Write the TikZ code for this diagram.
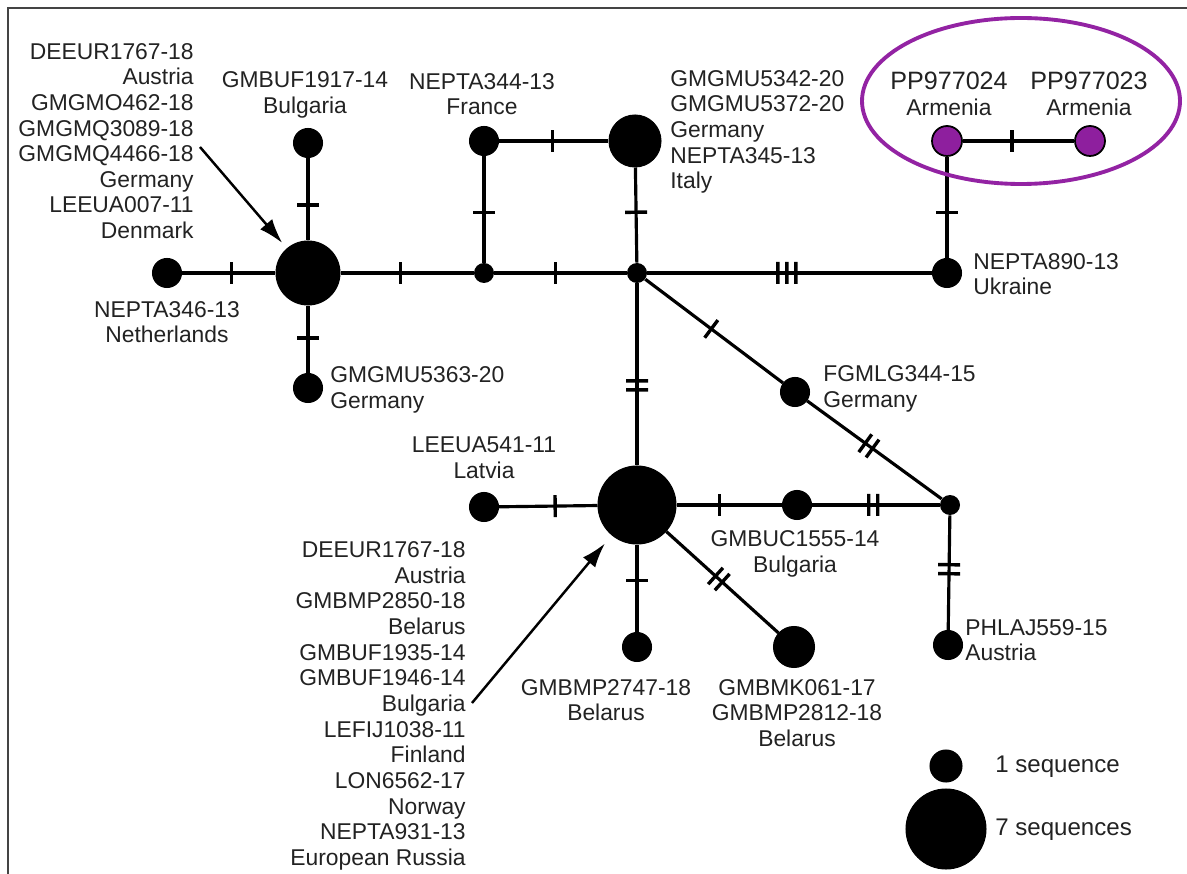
\documentclass[tikz,border=0pt]{standalone}
\usepackage{fontspec}
\setmainfont{Liberation Sans}
\usetikzlibrary{decorations.markings,arrows.meta,backgrounds,shapes.geometric}
\definecolor{purp}{HTML}{8E1F9E}
\definecolor{purpline}{HTML}{9323A3}
\definecolor{txt}{HTML}{222222}
\definecolor{frame}{HTML}{444444}
\begin{document}
\begin{tikzpicture}[x=0.02cm,y=-0.02cm,
  hap/.style={circle,fill=black,draw=black,line width=0.6pt,inner sep=0pt,minimum size=#1*0.04cm},
  med/.style={circle,fill=black,inner sep=0pt,minimum size=0.4cm},
  armhap/.style={circle,fill=purp,draw=black,line width=1pt,inner sep=0pt,minimum size=0.6cm},
  edge/.style={line width=1.8pt},
  tone/.style={postaction={decorate,decoration={markings,mark=at position #1 with {\fill (-1.7,-11) rectangle (1.7,11);}}}},
  ttwo/.style={postaction={decorate,decoration={markings,mark=at position #1 with {\fill (-6.2,-11) rectangle (-2.8,11) (2.8,-11) rectangle (6.2,11);}}}},
  tthree/.style={postaction={decorate,decoration={markings,mark=at position #1 with {\fill (-10.7,-11) rectangle (-7.3,11) (-1.7,-11) rectangle (1.7,11) (7.3,-11) rectangle (10.7,11);}}}},
  lab/.style={font=\fontsize{13}{14.6}\selectfont,text=txt,inner sep=0pt},
  legtxt/.style={font=\fontsize{13.7}{16}\selectfont,text=txt,inner sep=0pt,anchor=west},
  pointer/.style={line width=1.4pt,-{Latex[length=14pt,width=9pt]}}
]
\useasboundingbox (0,0) rectangle (1187,874);
% frame (top and left)
\coordinate (fa) at (8,874);
\coordinate (fb) at (8,8);
\coordinate (fc) at (1187,8);
\draw[frame,line width=1.3pt] (fa) -- (fb) -- (fc);

% haplotype nodes
\node[hap=32] (A) at (308,273) {};
\node[hap=14.5] (nl) at (167,273) {};
\node[hap=14.5] (nt) at (308,143) {};
\node[hap=14.5] (nb) at (308,388) {};
\node[med] (m1) at (484,273) {};
\node[hap=14.5] (fr) at (484,141) {};
\node[hap=26] (g7) at (635,141) {};
\node[med] (m2) at (637,273) {};
\node[hap=14.5] (uk) at (947,273) {};
\node[armhap] (am1) at (947,141) {};
\node[armhap] (am2) at (1090,141) {};
\node[hap=14.5] (fg) at (795,392) {};
\node[med] (m3) at (950,505) {};
\node[hap=14.5] (ph) at (948,645) {};
\node[hap=14.5] (bu) at (797,505) {};
\node[hap=39] (B) at (637,505) {};
\node[hap=14.5] (lv) at (484,507) {};
\node[hap=14.5] (by) at (637,647) {};
\node[hap=20.5] (mk) at (794,647) {};

% legend
\node[hap=16] (leg1) at (946,766) {};
\node[hap=40] (leg7) at (946,829) {};
\node[legtxt] (legt1) at (995,767) {1 sequence};
\node[legtxt] (legt7) at (995,830) {7 sequences};

% purple ellipse
\node[draw=purpline,line width=2.2pt,ellipse,minimum width=318*0.02cm,minimum height=166*0.02cm,inner sep=0pt] (ell) at (1021,101) {};

% edges
\begin{scope}[on background layer]
\draw[edge,tone=0.53] (nl) -- (A);
\draw[edge,tone=0.57] (nt) -- (A);
\draw[edge,tone=0.48] (A) -- (nb);
\draw[edge,tone=0.45] (A) -- (m1);
\draw[edge,tone=0.47] (m1) -- (fr);
\draw[edge,tone=0.49] (fr) -- (g7);
\draw[edge,tone=0.47] (g7) -- (m2);
\draw[edge,tone=0.46] (m1) -- (m2);
\draw[edge,tthree=0.49] (m2) -- (uk);
\draw[edge,tone=0.45] (uk) -- (am1);
\draw[edge,tone=0.44] (am1) -- (am2);
\draw[edge,tone=0.48] (m2) -- (fg);
\draw[edge,ttwo=0.46] (fg) -- (m3);
\draw[edge,ttwo=0.56] (m2) -- (B);
\draw[edge,tone=0.41] (B) -- (bu);
\draw[edge,ttwo=0.48] (bu) -- (m3);
\draw[edge,ttwo=0.47] (m3) -- (ph);
\draw[edge,tone=0.57] (lv) -- (B);
\draw[edge,tone=0.41] (B) -- (by);
\draw[edge,ttwo=0.47] (B) -- (mk);
\end{scope}

% labels
\node[lab,align=right,anchor=east] (L1) at (194,141) {DEEUR1767-18\\Austria\\GMGMO462-18\\GMGMQ3089-18\\GMGMQ4466-18\\Germany\\LEEUA007-11\\Denmark};
\node[lab,align=center] (L2) at (305,95) {GMBUF1917-14\\Bulgaria};
\node[lab,align=center] (L3) at (482,94) {NEPTA344-13\\France};
\node[lab,align=left,anchor=west] (L4) at (670,132) {GMGMU5342-20\\GMGMU5372-20\\Germany\\NEPTA345-13\\Italy};
\node[lab,align=center] (L5) at (949,94) {{\fontsize{14.3}{14.6}\selectfont PP977024}\\Armenia};
\node[lab,align=center] (L6) at (1089,94) {{\fontsize{14.3}{14.6}\selectfont PP977023}\\Armenia};
\node[lab,align=left,anchor=west] (L7) at (973,274) {NEPTA890-13\\Ukraine};
\node[lab,align=center] (L8) at (167,322) {NEPTA346-13\\Netherlands};
\node[lab,align=left,anchor=west] (L9) at (330,390) {GMGMU5363-20\\Germany};
\node[lab,align=left,anchor=west] (L10) at (823,389) {FGMLG344-15\\Germany};
\node[lab,align=center] (L11) at (484,458) {LEEUA541-11\\Latvia};
\node[lab,align=right,anchor=east] (L12) at (466,706) {DEEUR1767-18\\Austria\\GMBMP2850-18\\Belarus\\GMBUF1935-14\\GMBUF1946-14\\Bulgaria\\LEFIJ1038-11\\Finland\\LON6562-17\\Norway\\NEPTA931-13\\European Russia};
\node[lab,align=center] (L13) at (795,554) {GMBUC1555-14\\Bulgaria};
\node[lab,align=left,anchor=west] (L14) at (965,640) {PHLAJ559-15\\Austria};
\node[lab,align=center] (L15) at (606,700) {GMBMP2747-18\\Belarus};
\node[lab,align=center] (L16) at (797,713) {GMBMK061-17\\GMBMP2812-18\\Belarus};

% pointer arrows
\coordinate (p1) at (200,147);
\coordinate (p2) at (472,703);
\draw[pointer,shorten >=4pt] (p1) -- (A);
\draw[pointer,shorten >=6pt] (p2) -- (B);
\end{tikzpicture}
\end{document}
